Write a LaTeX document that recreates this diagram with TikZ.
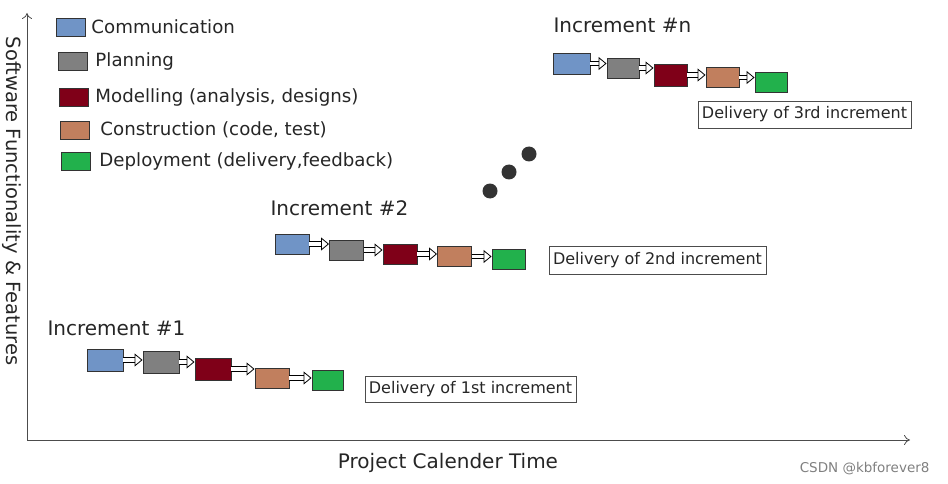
\documentclass[tikz,border=0pt]{standalone}
\usepackage{fontspec}
\setmainfont{DejaVu Sans}
\usepackage{tikz}
\usetikzlibrary{positioning, arrows.meta}
\usepackage{xcolor}

\definecolor{commblue}{HTML}{7094C6}
\definecolor{plangray}{HTML}{808080}
\definecolor{modred}{HTML}{7F0018}
\definecolor{constbrown}{HTML}{C17F5E}
\definecolor{deplgreen}{HTML}{22B14C}

\begin{document}
\begin{tikzpicture}[
    x=1pt, y=-1pt,
    phase/.style={rectangle, draw=black!80, line width=0.9pt, minimum width=34pt, minimum height=20pt, inner sep=0pt},
    legendbox/.style={rectangle, draw=black!80, line width=0.9pt, minimum width=29pt, minimum height=18pt, inner sep=0pt},
    legendtext/.style={anchor=west, font=\fontsize{18.2}{21}\selectfont, text=black!85},
    inclabel/.style={anchor=west, font=\fontsize{20}{23}\selectfont, text=black!85},
    delivery/.style={rectangle, draw=black!70, line width=0.6pt, minimum height=26pt, inner xsep=4pt, font=\fontsize{16}{19}\selectfont, text=black!85},
    hollow/.style={double, double distance=3.5pt, line width=0.8pt, -{Triangle[open, length=8pt, width=13pt]}},
    axis/.style={line width=0.8pt, black!70, -{To[length=6pt, width=10pt]}},
    dot/.style={circle, fill=black!80, minimum size=15pt, inner sep=0pt}
]
    \useasboundingbox (0,0) rectangle (948,484);

    % Axes
    \coordinate (origin) at (27,440);
    \coordinate (ytop) at (27,13);
    \coordinate (xend) at (910,440);
    \draw[axis] (origin) -- (ytop);
    \draw[axis] (origin) -- (xend);
    \node[rotate=-90, font=\fontsize{19.5}{22}\selectfont, text=black!85] (ylabel) at (12,201) {Software Functionality \& Features};
    \node[font=\fontsize{20}{23}\selectfont, text=black!85] (xlabel) at (448,463) {Project Calender Time};
    \node[anchor=east, font=\fontsize{13.5}{16}\selectfont, text=black!50] (mark) at (933,469) {CSDN @kbforever8};

    % Legend
    \node[legendbox, fill=commblue] (lcomm) at (71,27) {};
    \node[legendtext, right=2pt of lcomm] (tcomm) {Communication};
    \node[legendbox, fill=plangray] (lplan) at (73,61) {};
    \node[legendtext, right=4pt of lplan] (tplan) {Planning};
    \node[legendbox, fill=modred] (lmod) at (74,97) {};
    \node[legendtext, right=3pt of lmod] (tmod) {Modelling (analysis, designs)};
    \node[legendbox, fill=constbrown] (lconst) at (75,130) {};
    \node[legendtext, right=7pt of lconst] (tconst) {Construction (code, test)};
    \node[legendbox, fill=deplgreen] (ldepl) at (76,161) {};
    \node[legendtext, right=5pt of ldepl] (tdepl) {Deployment (delivery,feedback)};

    % Increment #1
    \node[inclabel] (inc1) at (44,328) {Increment \#1};
    \node[phase, fill=commblue, minimum width=36pt, minimum height=22pt] (a1) at (105,360) {};
    \node[phase, fill=plangray, minimum width=36pt, minimum height=22pt] (b1) at (161,362) {};
    \node[phase, fill=modred, minimum width=36pt, minimum height=22pt] (c1) at (213,369) {};
    \node[phase, fill=constbrown] (d1) at (272,378) {};
    \node[phase, fill=deplgreen, minimum width=31pt] (e1) at (327.5,380) {};
    \node[delivery] (del1) at (470.5,389) {Delivery of 1st increment};

    % Increment #2
    \node[inclabel] (inc2) at (267,208) {Increment \#2};
    \node[phase, fill=commblue] (a2) at (292,244) {};
    \node[phase, fill=plangray] (b2) at (346.5,250) {};
    \node[phase, fill=modred] (c2) at (400,254) {};
    \node[phase, fill=constbrown] (d2) at (454.5,256.5) {};
    \node[phase, fill=deplgreen, minimum width=33pt] (e2) at (508.5,259.5) {};
    \node[delivery, minimum height=28pt] (del2) at (657.5,260) {Delivery of 2nd increment};

    % Increment #n
    \node[inclabel] (incn) at (550,25) {Increment \#n};
    \node[phase, fill=commblue, minimum width=37pt, minimum height=21pt] (an) at (571.5,63.5) {};
    \node[phase, fill=plangray, minimum width=32pt] (bn) at (623,68) {};
    \node[phase, fill=modred, minimum width=33pt, minimum height=22pt] (cn) at (670.5,75) {};
    \node[phase, fill=constbrown, minimum width=33pt] (dn) at (722.5,77.5) {};
    \node[phase, fill=deplgreen, minimum width=32pt] (en) at (771,82) {};
    \node[delivery, minimum height=27pt] (deln) at (804.5,114.5) {Delivery of 3rd increment};

    % Dots in between
    \node[dot] (dot1) at (490,191) {};
    \node[dot] (dot2) at (509,172) {};
    \node[dot] (dot3) at (529,154) {};

    % Edges
    \draw[hollow] (a1.east) -- (a1.east -| b1.west);
    \draw[hollow] (b1.east) -- (b1.east -| c1.west);
    \draw[hollow] (c1.east) -- (c1.east -| d1.west);
    \draw[hollow] (d1.east) -- (d1.east -| e1.west);
    \draw[hollow] (a2.east) -- (a2.east -| b2.west);
    \draw[hollow] (b2.east) -- (b2.east -| c2.west);
    \draw[hollow] (c2.east) -- (c2.east -| d2.west);
    \draw[hollow] (d2.east) -- (d2.east -| e2.west);
    \draw[hollow] (an.east) -- (an.east -| bn.west);
    \draw[hollow] (bn.east) -- (bn.east -| cn.west);
    \draw[hollow] (cn.east) -- (cn.east -| dn.west);
    \draw[hollow] (dn.east) -- (dn.east -| en.west);
\end{tikzpicture}
\end{document}
